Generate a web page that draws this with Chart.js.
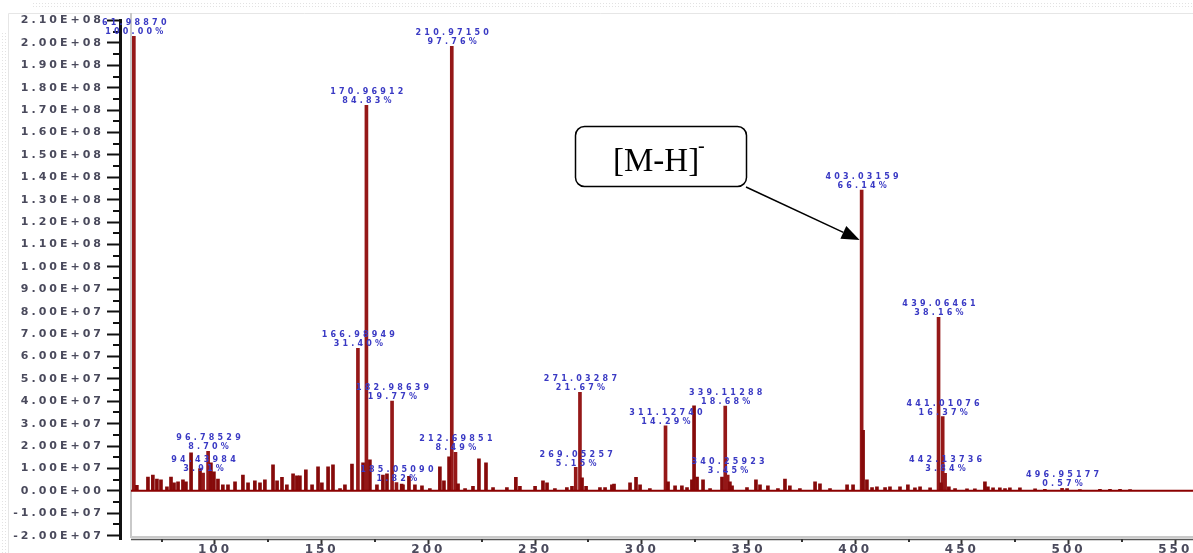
<!DOCTYPE html>
<html>
<head>
<meta charset="utf-8">
<style>
  html, body { margin: 0; padding: 0; background: #fff; overflow: hidden; }
  #wrap { position: relative; width: 1193px; height: 553px; }
</style>
<script src="https://cdn.jsdelivr.net/npm/chart.js@4.4.1/dist/chart.umd.min.js"></script>
</head>
<body>
<div id="wrap"><canvas id="myChart"></canvas></div>
<script>
// labelled peaks (m/z, intensity, relative abundance as printed)
const labelMz = [61.98870, 170.96912, 210.97150, 403.03159, 439.06461, 166.98949, 182.98639,
  271.03287, 339.11288, 311.12740, 441.01076, 96.78529, 94.43984, 212.69851, 269.05257,
  340.25923, 442.13736, 496.95177, 185.05090];
const labelIntensity = [2.03e8, 1.722e8, 1.985e8, 1.343e8, 7.75e7, 6.37e7, 4.01e7,
  4.40e7, 3.79e7, 2.90e7, 3.32e7, 1.77e7, 7.9e6, 1.72e7, 1.045e7,
  7.0e6, 7.8e6, 1.16e6, 3.7e6];
const labelPct = ['100.00%', '84.83%', '97.76%', '66.14%', '38.16%', '31.40%', '19.77%',
  '21.67%', '18.68%', '14.29%', '16.37%', '8.70%', '3.91%', '8.49%', '5.15%',
  '3.45%', '3.84%', '0.57%', '1.82%'];

// other peaks
const peakMz = [63.4, 68.6, 70.9, 72.8, 74.7, 77.5, 79.4, 80.8, 82.7, 85.0, 86.4, 88.8, 93.0,
  98.1, 99.5, 101.4, 103.7, 106.1, 109.4, 113.1, 115.5, 118.7, 121.1, 123.4, 127.2, 129.1,
  131.4, 133.7, 136.6, 138.4, 139.8, 142.6, 145.5, 148.3, 150.1, 153.0, 155.3, 158.6, 160.9,
  164.2, 169.4, 172.6, 175.9, 178.7, 180.6, 187.5, 188.1, 190.9, 193.7, 197.0, 200.7, 205.4,
  207.3, 209.7, 213.9, 217.2, 220.9, 223.7, 227.0, 230.3, 236.8, 241.0, 242.9, 250.0, 253.7,
  255.6, 259.3, 264.9, 267.3, 272.0, 273.9, 280.4, 282.8, 286.0, 287.0, 294.5, 297.3, 299.2,
  303.8, 312.3, 315.6, 318.8, 321.2, 323.5, 324.5, 325.9, 328.7, 332.0, 337.6, 341.3, 342.3,
  349.3, 353.5, 355.4, 359.1, 363.8, 367.1, 369.4, 374.1, 381.2, 383.5, 388.2, 396.2, 399.0,
  403.7, 405.5, 407.9, 410.2, 414.0, 416.3, 421.0, 424.7, 428.0, 430.4, 435.1, 440.2, 443.9,
  446.8, 452.4, 456.1, 460.8, 462.2, 464.6, 467.8, 470.2, 472.5, 477.2, 484.3, 488.9, 499.3,
  505.3, 514.7, 519.4, 524.1, 528.8];
const peakIntensity = [2.5e6, 6.2e6, 7.0e6, 5.3e6, 4.9e6, 1.8e6, 6.2e6, 3.6e6, 4.0e6, 4.9e6, 4.0e6, 1.7e7, 1.0e7,
  1.25e7, 8.5e6, 5.3e6, 2.7e6, 2.7e6, 4.0e6, 7.1e6, 3.6e6, 4.5e6, 3.6e6, 4.9e6, 1.16e7, 4.5e6,
  6.0e6, 2.7e6, 7.6e6, 6.7e6, 6.7e6, 9.4e6, 2.7e6, 1.07e7, 3.6e6, 1.07e7, 1.16e7, 1.0e6, 2.7e6,
  1.2e7, 1.25e7, 1.38e7, 2.7e6, 7.1e6, 7.6e6, 3.0e6, 2.7e6, 6.5e6, 2.7e6, 2.2e6, 1.0e6, 1.07e7,
  4.5e6, 1.52e7, 3.1e6, 1.0e6, 2.0e6, 1.43e7, 1.25e7, 1.5e6, 1.5e6, 6.0e6, 2.0e6, 2.0e6, 4.5e6,
  3.6e6, 1.0e6, 1.5e6, 2.0e6, 5.8e6, 2.0e6, 1.5e6, 1.5e6, 2.7e6, 3.0e6, 3.6e6, 6.0e6, 2.7e6,
  1.0e6, 4.0e6, 2.2e6, 2.2e6, 1.5e6, 4.9e6, 3.8e7, 6.2e6, 4.9e6, 1.0e6, 6.2e6, 4.0e6, 2.2e6,
  1.5e6, 4.9e6, 2.7e6, 2.2e6, 1.0e6, 5.3e6, 2.2e6, 1.0e6, 4.0e6, 3.1e6, 1.0e6, 2.7e6, 2.7e6,
  2.7e7, 4.9e6, 1.5e6, 1.8e6, 1.5e6, 1.8e6, 1.8e6, 2.7e6, 1.3e6, 1.8e6, 1.3e6, 3.6e6, 1.8e6,
  1.0e6, 0.9e6, 0.9e6, 4.0e6, 1.8e6, 1.3e6, 1.3e6, 1.0e6, 1.3e6, 1.3e6, 0.9e6, 0.7e6, 1.0e6,
  0.6e6, 0.7e6, 0.7e6, 0.7e6, 0.6e6];

const xTicks = [100, 150, 200, 250, 300, 350, 400, 450, 500, 550];
const yTicks = [];
for (let i = -2; i <= 21; i++) yTicks.push(i * 1e7);

function sciLabel(v) {
    const [m, e] = Number(v).toExponential(2).split('e');
    const n = parseInt(e);
    return m.toUpperCase() + 'E' + (n < 0 ? '-' : '+') + String(Math.abs(n)).padStart(2, '0');
}

const spectrumDecor = {
    id: 'spectrumDecor',
    beforeDraw(chart) {
        const ctx = chart.ctx;
        ctx.letterSpacing = '3px';
        // faint page frame
        ctx.save();
        ctx.strokeStyle = '#e2e2e2';
        ctx.lineWidth = 1;
        ctx.setLineDash([1, 2]);
        ctx.beginPath();
        ctx.moveTo(33, 3.5); ctx.lineTo(1193, 3.5);
        ctx.moveTo(33, 6.5); ctx.lineTo(1193, 6.5);
        ctx.moveTo(2.5, 33); ctx.lineTo(2.5, 553);
        ctx.moveTo(5.5, 33); ctx.lineTo(5.5, 553);
        ctx.stroke();
        ctx.setLineDash([]);
        ctx.strokeStyle = '#e6e6e6';
        ctx.beginPath();
        ctx.moveTo(8.5, 13.5); ctx.lineTo(1193, 13.5);
        ctx.moveTo(8.5, 13.5); ctx.lineTo(8.5, 553);
        ctx.stroke();
        ctx.restore();
    },
    afterDraw(chart) {
        const ctx = chart.ctx;
        const xs = chart.scales.x, ys = chart.scales.y;
        const area = chart.chartArea;
        const y0 = ys.getPixelForValue(0);
        ctx.save();
        // plot frame (grey)
        ctx.strokeStyle = '#c9c9c9';
        ctx.lineWidth = 2;
        ctx.beginPath();
        ctx.moveTo(131, 13); ctx.lineTo(131, area.bottom - 2);
        ctx.lineTo(1193, area.bottom - 2);
        ctx.stroke();
        // x axis line
        ctx.strokeStyle = '#555';
        ctx.lineWidth = 1.5;
        ctx.beginPath();
        ctx.moveTo(131, area.bottom + 0.5); ctx.lineTo(1193, area.bottom + 0.5);
        ctx.stroke();
        // baseline
        ctx.strokeStyle = '#8b0000';
        ctx.lineWidth = 2;
        ctx.beginPath();
        ctx.moveTo(131, y0); ctx.lineTo(1193, y0);
        ctx.stroke();
        // minor ticks
        ctx.strokeStyle = '#111';
        ctx.lineWidth = 2;
        ctx.beginPath();
        for (let i = -3; i <= 41; i += 2) {
            const py = Math.round(ys.getPixelForValue(i * 5e6));
            if (py < area.top - 1) continue;
            ctx.moveTo(area.left - 7, py); ctx.lineTo(area.left, py);
        }
        ctx.stroke();
        ctx.strokeStyle = '#333';
        ctx.beginPath();
        for (let v = 75; v < 560; v += 50) {
            const px = Math.round(xs.getPixelForValue(v));
            ctx.moveTo(px, area.bottom); ctx.lineTo(px, area.bottom + 3);
        }
        ctx.stroke();

        // peak labels
        ctx.letterSpacing = '3.2px';
        ctx.font = 'bold 8px "DejaVu Sans"';
        ctx.fillStyle = '#3a3ac4';
        ctx.textAlign = 'center';
        ctx.textBaseline = 'bottom';
        labelMz.forEach((m, i) => {
            const px = xs.getPixelForValue(m) + 2;
            const top = ys.getPixelForValue(labelIntensity[i]);
            ctx.fillText(m.toFixed(5), px, top - 9);
            ctx.fillText(labelPct[i], px, top);
        });

        // [M-H]- annotation
        ctx.letterSpacing = '0px';
        ctx.strokeStyle = '#000';
        ctx.lineWidth = 1.5;
        ctx.beginPath();
        ctx.roundRect(575.5, 126.5, 171, 60, 9);
        ctx.stroke();
        ctx.fillStyle = '#000';
        ctx.textAlign = 'left';
        ctx.textBaseline = 'alphabetic';
        ctx.font = '33px "Liberation Serif"';
        ctx.fillText('[M-H]', 613, 171);
        ctx.font = '20px "Liberation Serif"';
        ctx.fillText('-', 698, 152);

        const tipX = xs.getPixelForValue(labelMz[3]) - 2;
        const tipY = ys.getPixelForValue(1.12e8);
        const sx = 746, sy = 187;
        const ang = Math.atan2(tipY - sy, tipX - sx);
        const hl = 18, hw = 7;
        const bx = tipX - hl * Math.cos(ang), by = tipY - hl * Math.sin(ang);
        ctx.lineWidth = 1.5;
        ctx.beginPath();
        ctx.moveTo(sx, sy); ctx.lineTo(bx, by);
        ctx.stroke();
        ctx.beginPath();
        ctx.moveTo(tipX, tipY);
        ctx.lineTo(bx + hw * Math.sin(ang), by - hw * Math.cos(ang));
        ctx.lineTo(bx - hw * Math.sin(ang), by + hw * Math.cos(ang));
        ctx.closePath();
        ctx.fill();
        ctx.restore();
        ctx.letterSpacing = '0px';
    }
};

const ctx = document.getElementById('myChart');

const chart = new Chart(ctx, {
    type: 'bar',
    data: {
        datasets: [{
            data: peakMz.map((m, i) => ({ x: m, y: peakIntensity[i] })),
            backgroundColor: '#860a0a',
            barThickness: 3,
            grouped: false
        }, {
            data: labelMz.map((m, i) => ({ x: m, y: labelIntensity[i] })),
            backgroundColor: '#951818',
            barThickness: 3,
            grouped: false
        }]
    },
    options: {
        responsive: true,
        maintainAspectRatio: false,
        devicePixelRatio: 1,
        animation: false,
        events: [],
        layout: { padding: { top: 20.6, right: 0, bottom: 0, left: 0 } },
        plugins: {
            legend: { display: false },
            tooltip: { enabled: false }
        },
        scales: {
            x: {
                type: 'linear',
                offset: false,
                min: 55.5,
                max: 558.3,
                afterBuildTicks: (s) => { s.ticks = xTicks.map(v => ({ value: v })); },
                afterFit: (s) => { s.height = 14; },
                grid: { drawOnChartArea: false, offset: false, tickLength: 5, tickWidth: 2, tickColor: '#333' },
                border: { display: false },
                ticks: {
                    padding: 0,
                    maxRotation: 0,
                    autoSkip: false,
                    color: '#4a4a5c',
                    font: { family: 'DejaVu Sans', size: 12, weight: 'bold', lineHeight: 1 }
                }
            },
            y: {
                min: -2.15e7,
                max: 2.1e8,
                afterBuildTicks: (s) => { s.ticks = yTicks.map(v => ({ value: v })); },
                afterFit: (s) => { s.width = 120; },
                grid: { drawOnChartArea: false, tickLength: 13, tickWidth: 2, tickColor: '#111' },
                border: { display: true, color: '#111', width: 3 },
                ticks: {
                    padding: 3,
                    autoSkip: false,
                    color: '#4a4a5c',
                    font: { family: 'DejaVu Sans', size: 11, weight: 'bold' },
                    callback: (v) => sciLabel(v)
                }
            }
        }
    },
    plugins: [spectrumDecor]
});
</script>
</body>
</html>
